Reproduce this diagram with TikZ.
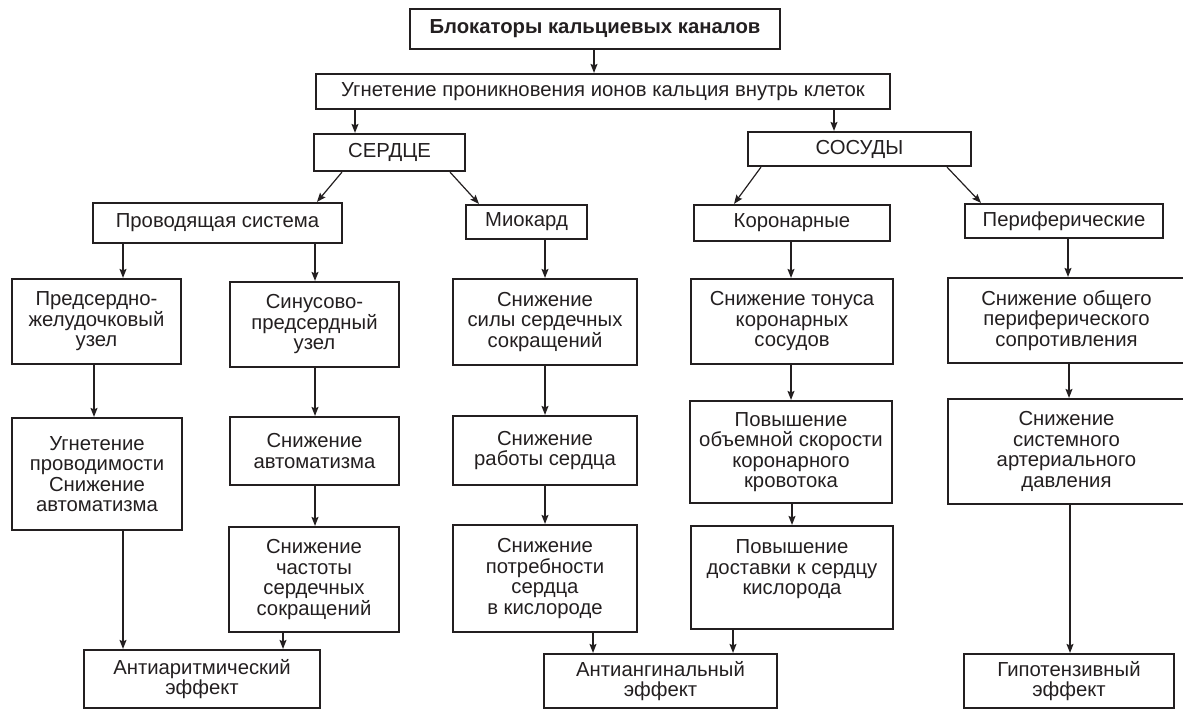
\documentclass[tikz,border=0pt]{standalone}
\usepackage{fontspec}
\setmainfont{Liberation Sans}
\usetikzlibrary{arrows.meta}
\definecolor{ink}{HTML}{231F20}
\tikzset{
  box/.style={draw=ink, text=ink, line width=2.2pt, align=center, inner sep=0pt,
    font=\fontsize{20.3}{20.5}\selectfont},
  arr/.style={draw=ink, line width=1.2pt, -{Stealth[length=9pt,width=7pt,inset=1.5pt]}},
}
\begin{document}
\begin{tikzpicture}[x=1pt,y=-1pt]
\useasboundingbox (0,0) rectangle (1183,710);
% level 0-1
\node[box, minimum width=370, minimum height=40, font=\fontsize{20.3}{20.5}\selectfont\bfseries] (top) at (595,29) {Блокаторы кальциевых каналов};
\node[box, minimum width=574, minimum height=35] (ugn) at (603,91.5) {Угнетение проникновения ионов кальция внутрь клеток};
% level 2
\node[box, minimum width=151, minimum height=37] (serdce) at (389.5,152.5) {СЕРДЦЕ};
\node[box, minimum width=223, minimum height=34] (sosudy) at (859.5,149) {СОСУДЫ};
% level 3
\node[box, minimum width=249, minimum height=40] (prov) at (217.5,223) {Проводящая система};
\node[box, minimum width=121, minimum height=34] (miok) at (526.5,222) {Миокард};
\node[box, minimum width=196, minimum height=36] (koron) at (792,223) {Коронарные};
\node[box, minimum width=198, minimum height=34] (perif) at (1064,221) {Периферические};
% level 4
\node[box, minimum width=169, minimum height=85] (psj) at (96.5,321.5) {Предсердно-\\желудочковый\\узел};
\node[box, minimum width=169, minimum height=85] (sin) at (314.5,324.5) {Синусово-\\предсердный\\узел};
\node[box, minimum width=184, minimum height=86] (sila) at (545,322) {Снижение\\силы сердечных\\сокращений};
\node[box, minimum width=202, minimum height=85] (tonus) at (792,321.5) {Снижение тонуса\\коронарных\\сосудов};
\node[box, minimum width=237, minimum height=85] (obsh) at (1066.5,320.5) {Снижение общего\\периферического\\сопротивления};
% level 5
\node[box, minimum width=170, minimum height=112] (ugnprov) at (97,474) {Угнетение\\проводимости\\Снижение\\автоматизма};
\node[box, minimum width=169, minimum height=68] (avt) at (314.5,451) {Снижение\\автоматизма};
\node[box, minimum width=184, minimum height=69] (rab) at (545,450.5) {Снижение\\работы сердца};
\node[box, minimum width=202, minimum height=102] (obem) at (791,452) {Повышение\\объемной скорости\\коронарного\\кровотока};
\node[box, minimum width=237, minimum height=105] (sist) at (1066.5,451.5) {Снижение\\системного\\артериального\\давления};
% level 6
\node[box, minimum width=170, minimum height=105] (chast) at (314,579.5) {Снижение\\частоты\\сердечных\\сокращений};
\node[box, minimum width=184, minimum height=107] (potr) at (545,578.5) {Снижение\\потребности\\сердца\\в кислороде};
\node[box, minimum width=202, minimum height=103] (dost) at (792,577.5) {Повышение\\доставки к сердцу\\кислорода\\\mbox{}};
% effects
\node[box, minimum width=236, minimum height=58] (antiar) at (202,679) {Антиаритмический\\эффект};
\node[box, minimum width=233, minimum height=54] (antiang) at (660.5,681) {Антиангинальный\\эффект};
\node[box, minimum width=210, minimum height=54] (gipo) at (1069,681) {Гипотензивный\\эффект};
% arrows
\draw[arr] (594,0 |- top.south) -- (594,0 |- ugn.north);
\draw[arr] (355,0 |- ugn.south) -- (355,0 |- serdce.north);
\draw[arr] (834,0 |- ugn.south) -- (834,0 |- sosudy.north);
\draw[arr] (342,0 |- serdce.south) -- (317,0 |- prov.north);
\draw[arr] (450,0 |- serdce.south) -- (479,0 |- miok.north);
\draw[arr] (761,0 |- sosudy.south) -- (734,0 |- koron.north);
\draw[arr] (947,0 |- sosudy.south) -- (981,0 |- perif.north);
\draw[arr] (123,0 |- prov.south) -- (123,0 |- psj.north);
\draw[arr] (315,0 |- prov.south) -- (315,0 |- sin.north);
\draw[arr] (545,0 |- miok.south) -- (545,0 |- sila.north);
\draw[arr] (791,0 |- koron.south) -- (791,0 |- tonus.north);
\draw[arr] (1068,0 |- perif.south) -- (1068,0 |- obsh.north);
\draw[arr] (94,0 |- psj.south) -- (94,0 |- ugnprov.north);
\draw[arr] (315,0 |- sin.south) -- (315,0 |- avt.north);
\draw[arr] (545,0 |- sila.south) -- (545,0 |- rab.north);
\draw[arr] (791,0 |- tonus.south) -- (791,0 |- obem.north);
\draw[arr] (1069,0 |- obsh.south) -- (1069,0 |- sist.north);
\draw[arr] (123,0 |- ugnprov.south) -- (123,0 |- antiar.north);
\draw[arr] (315,0 |- avt.south) -- (315,0 |- chast.north);
\draw[arr] (545,0 |- rab.south) -- (545,0 |- potr.north);
\draw[arr] (792,0 |- obem.south) -- (792,0 |- dost.north);
\draw[arr] (1070,0 |- sist.south) -- (1070,0 |- gipo.north);
\draw[arr] (283,0 |- chast.south) -- (283,0 |- antiar.north);
\draw[arr] (593,0 |- potr.south) -- (593,0 |- antiang.north);
\draw[arr] (733,0 |- dost.south) -- (733,0 |- antiang.north);
\end{tikzpicture}
\end{document}
